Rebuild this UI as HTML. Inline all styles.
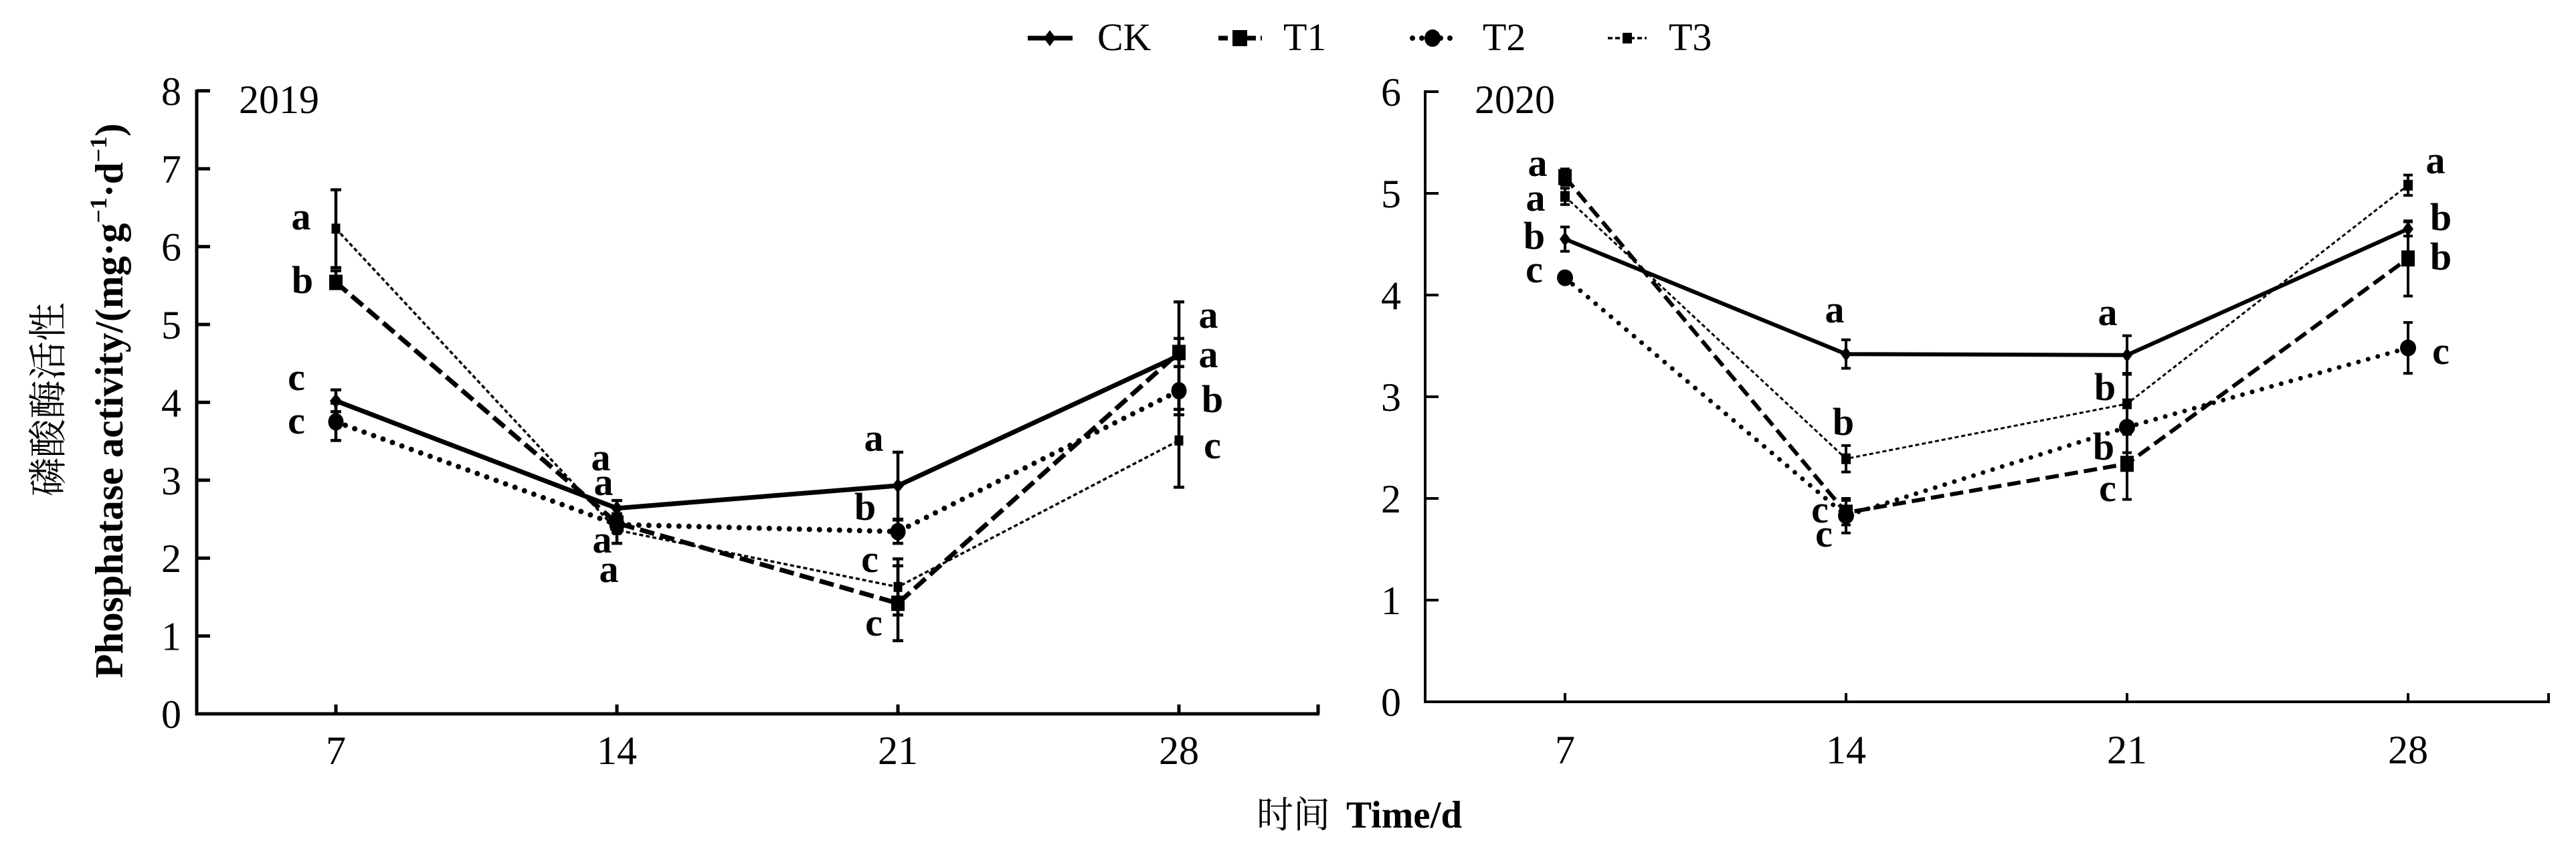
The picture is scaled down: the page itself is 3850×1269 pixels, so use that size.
<!DOCTYPE html>
<html>
<head>
<meta charset="utf-8">
<style>
html,body{margin:0;padding:0;background:#fff;}
svg{display:block;}
.tk{font-family:"Liberation Serif",serif;font-size:60px;fill:#000;}
.lg{font-family:"Liberation Serif",serif;font-size:58px;fill:#000;}
.lb{font-family:"Liberation Serif",serif;font-size:58px;font-weight:bold;fill:#000;text-anchor:middle;}
</style>
</head>
<body>
<svg width="3850" height="1269" viewBox="0 0 3850 1269" xmlns="http://www.w3.org/2000/svg">
<rect width="3850" height="1269" fill="#fff"/>

<!-- ================= LEGEND ================= -->
<g stroke="#000" fill="#000">
  <line x1="1536" y1="57" x2="1603" y2="57" stroke-width="7"/>
  <polygon points="1569,45 1578,57 1569,69 1560,57" stroke="none"/>
  <line x1="1821" y1="57" x2="1886" y2="57" stroke-width="7" stroke-dasharray="14 7"/>
  <rect x="1842" y="45" width="22" height="24" stroke="none"/>
  <line x1="2111" y1="57" x2="2171" y2="57" stroke-width="8" stroke-linecap="round" stroke-dasharray="0 14"/>
  <ellipse cx="2141" cy="57" rx="12" ry="13" stroke="none"/>
  <line x1="2403" y1="57" x2="2461" y2="57" stroke-width="3.5" stroke-dasharray="7 4"/>
  <rect x="2425" y="49" width="14" height="16" stroke="none"/>
</g>
<text class="lg" x="1640" y="75">CK</text>
<text class="lg" x="1918" y="75">T1</text>
<text class="lg" x="2216" y="75">T2</text>
<text class="lg" x="2494" y="75">T3</text>

<!-- ================= Y TITLE ================= -->
<text transform="translate(92,597) rotate(-90)" text-anchor="middle" style="font-family:'Liberation Serif','Noto Serif CJK SC','Noto Sans CJK SC',serif;font-size:58px;fill:#000;">磷酸酶活性</text>
<text transform="translate(183,599) rotate(-90)" text-anchor="middle" style="font-family:'Liberation Serif',serif;font-size:59px;font-weight:bold;fill:#000;">Phosphatase activity/(mg·g<tspan font-size="36" dy="-24">−1</tspan><tspan dy="24">·d</tspan><tspan font-size="36" dy="-24">−1</tspan><tspan dy="24">)</tspan></text>

<!-- ================= X TITLE ================= -->
<text x="1878" y="1237" style="font-family:'Liberation Serif','Noto Serif CJK SC','Noto Sans CJK SC',serif;font-size:55px;fill:#000;">时间</text>
<text x="2012" y="1237" style="font-family:'Liberation Serif',serif;font-size:57px;font-weight:bold;fill:#000;">Time/d</text>

<!-- ================= PANEL 2019 ================= -->
<g stroke="#000" stroke-width="5" fill="none">
  <line x1="294" y1="134" x2="294" y2="1069"/>
  <line x1="292" y1="1067" x2="1972" y2="1067"/>
  <path d="M294 1067H314M294 950.6H314M294 834.2H314M294 717.8H314M294 601.4H314M294 485H314M294 368.6H314M294 252.2H314M294 135.8H314"/>
  <path d="M502 1067V1053M922 1067V1053M1342 1067V1053M1762 1067V1053M1970 1067V1053"/>
</g>
<g class="tk" text-anchor="end">
  <text x="271" y="1088">0</text>
  <text x="271" y="971.6">1</text>
  <text x="271" y="855.2">2</text>
  <text x="271" y="738.8">3</text>
  <text x="271" y="622.4">4</text>
  <text x="271" y="506">5</text>
  <text x="271" y="389.6">6</text>
  <text x="271" y="273.2">7</text>
  <text x="271" y="156.8">8</text>
</g>
<g class="tk" text-anchor="middle">
  <text x="502" y="1142">7</text>
  <text x="922" y="1142">14</text>
  <text x="1342" y="1142">21</text>
  <text x="1762" y="1142">28</text>
</g>
<text class="tk" x="357" y="169">2019</text>

<!-- error bars 2019 -->
<g stroke="#000" stroke-width="4.5" fill="none">
  <path d="M502 283.6V400M494 283.6H510M494 400H510"/>
  <path d="M502 404.7V429.6M494 404.7H510M494 429.6H510"/>
  <path d="M502 582.8V615.4M494 582.8H510M494 615.4H510"/>
  <path d="M502 602.6V658.4M494 602.6H510M494 658.4H510"/>

  <path d="M922 748.1V771.3M914 748.1H930M914 771.3H930"/>
  <path d="M922 767.9V795.8M914 767.9H930M914 795.8H930"/>
  <path d="M922 772.5V812.1M914 772.5H930M914 812.1H930"/>

  <path d="M1342 675.9V776M1334 675.9H1350M1334 776H1350"/>
  <path d="M1342 777.2V812.1M1334 777.2H1350M1334 812.1H1350"/>
  <path d="M1342 835.4V919.2M1334 835.4H1350M1334 919.2H1350"/>
  <path d="M1342 845.8V957.6M1334 845.8H1350M1334 957.6H1350"/>

  <path d="M1762 451.2V611.9M1754 451.2H1770M1754 611.9H1770"/>
  <path d="M1762 505.9V547.9M1754 505.9H1770M1754 547.9H1770"/>
  <path d="M1762 547.9V620M1754 547.9H1770M1754 620H1770"/>
  <path d="M1762 588.6V728.3M1754 588.6H1770M1754 728.3H1770"/>
</g>

<!-- lines 2019 -->
<g stroke="#000" fill="none" stroke-linejoin="round">
  <polyline points="502,341.8 922,792.3 1342,877.3 1762,658.4" stroke-width="3.5" stroke-dasharray="6 4"/>
  <polyline points="502,630.5 922,784.1 1342,794.6 1762,584" stroke-width="8" stroke-linecap="round" stroke-dasharray="0 15"/>
  <polyline points="502,422.1 922,781.8 1342,901.7 1762,526.9" stroke-width="7" stroke-dasharray="22 9"/>
  <polyline points="502,599.1 922,759.7 1342,725.9 1762,531.6" stroke-width="7"/>
</g>

<!-- markers 2019 -->
<g fill="#000">
  <rect x="495.5" y="334.3" width="13" height="15"/>
  <rect x="915.5" y="784.8" width="13" height="15"/>
  <rect x="1335.5" y="869.8" width="13" height="15"/>
  <rect x="1755.5" y="650.9" width="13" height="15"/>

  <ellipse cx="502" cy="630.5" rx="11.5" ry="13"/>
  <ellipse cx="922" cy="784.1" rx="11.5" ry="13"/>
  <ellipse cx="1342" cy="794.6" rx="11.5" ry="13"/>
  <ellipse cx="1762" cy="584" rx="11.5" ry="13"/>

  <rect x="492" y="410.6" width="20" height="23"/>
  <rect x="912" y="770.3" width="20" height="23"/>
  <rect x="1332" y="890.2" width="20" height="23"/>
  <rect x="1752" y="515.4" width="20" height="23"/>

  <polygon points="502,588.1 511,599.1 502,610.1 493,599.1"/>
  <polygon points="922,748.7 931,759.7 922,770.7 913,759.7"/>
  <polygon points="1342,714.9 1351,725.9 1342,736.9 1333,725.9"/>
  <polygon points="1762,520.6 1771,531.6 1762,542.6 1753,531.6"/>
</g>

<!-- letters 2019 -->
<g class="lb">
  <text x="450" y="343">a</text>
  <text x="452" y="438">b</text>
  <text x="443" y="583">c</text>
  <text x="443" y="648">c</text>

  <text x="898" y="703">a</text>
  <text x="902" y="740">a</text>
  <text x="900" y="826">a</text>
  <text x="910" y="870">a</text>

  <text x="1306" y="674">a</text>
  <text x="1293" y="777">b</text>
  <text x="1300" y="855">c</text>
  <text x="1306" y="950">c</text>

  <text x="1806" y="490">a</text>
  <text x="1806" y="549">a</text>
  <text x="1812" y="616">b</text>
  <text x="1812" y="685">c</text>
</g>

<!-- ================= PANEL 2020 ================= -->
<g stroke="#000" stroke-width="4" fill="none">
  <line x1="2130" y1="135" x2="2130" y2="1051"/>
  <line x1="2128" y1="1049" x2="3811" y2="1049"/>
  <path d="M2130 1049H2150M2130 897H2150M2130 745H2150M2130 593H2150M2130 441H2150M2130 289H2150M2130 137H2150"/>
  <path d="M2339 1049V1036M2759 1049V1036M3179 1049V1036M3599 1049V1036M3809 1049V1036"/>
</g>
<g class="tk" text-anchor="end">
  <text x="2094" y="1070">0</text>
  <text x="2094" y="918">1</text>
  <text x="2094" y="766">2</text>
  <text x="2094" y="614">3</text>
  <text x="2094" y="462">4</text>
  <text x="2094" y="310">5</text>
  <text x="2094" y="158">6</text>
</g>
<g class="tk" text-anchor="middle">
  <text x="2339" y="1141">7</text>
  <text x="2759" y="1141">14</text>
  <text x="3179" y="1141">21</text>
  <text x="3599" y="1141">28</text>
</g>
<text class="tk" x="2204" y="169">2020</text>

<!-- error bars 2020 -->
<g stroke="#000" stroke-width="4" fill="none">
  <path d="M2339 252.5V276.9M2332 252.5H2346M2332 276.9H2346"/>
  <path d="M2339 281.4V305.7M2332 281.4H2346M2332 305.7H2346"/>
  <path d="M2339 339.2V375.6M2332 339.2H2346M2332 375.6H2346"/>

  <path d="M2759 507.9V550.5M2752 507.9H2766M2752 550.5H2766"/>
  <path d="M2759 666V705.5M2752 666H2766M2752 705.5H2766"/>
  <path d="M2759 748.1V784.6M2752 748.1H2766M2752 784.6H2766"/>
  <path d="M2759 745V796.6M2752 745H2766M2752 796.6H2766"/>

  <path d="M3179 501.8V559.6M3172 501.8H3186M3172 559.6H3186"/>
  <path d="M3179 558V649.2M3172 558H3186M3172 649.2H3186"/>
  <path d="M3179 600.6V676.6M3172 600.6H3186M3172 676.6H3186"/>
  <path d="M3179 640.1V746.5M3172 640.1H3186M3172 746.5H3186"/>

  <path d="M3599 261.6V292M3592 261.6H3606M3592 292H3606"/>
  <path d="M3599 331.6V352.8M3592 331.6H3606M3592 352.8H3606"/>
  <path d="M3599 330.1V442.5M3592 330.1H3606M3592 442.5H3606"/>
  <path d="M3599 482V558M3592 482H3606M3592 558H3606"/>
</g>

<!-- lines 2020 -->
<g stroke="#000" fill="none" stroke-linejoin="round">
  <polyline points="2339,293.6 2759,685.7 3179,603.6 3599,276.8" stroke-width="3" stroke-dasharray="6 4"/>
  <polyline points="2339,415.2 2759,770.8 3179,638.6 3599,520" stroke-width="7" stroke-linecap="round" stroke-dasharray="0 15"/>
  <polyline points="2339,264.7 2759,766.3 3179,693.3 3599,386.3" stroke-width="6" stroke-dasharray="20 9"/>
  <polyline points="2339,357.4 2759,529.2 3179,530.7 3599,342.2" stroke-width="6"/>
</g>

<!-- markers 2020 -->
<g fill="#000">
  <rect x="2332" y="285.6" width="14" height="16"/>
  <rect x="2752" y="677.7" width="14" height="16"/>
  <rect x="3172" y="595.6" width="14" height="16"/>
  <rect x="3592" y="268.8" width="14" height="16"/>

  <ellipse cx="2339" cy="415.2" rx="12" ry="12.5"/>
  <ellipse cx="2759" cy="770.8" rx="12" ry="12.5"/>
  <ellipse cx="3179" cy="638.6" rx="12" ry="12.5"/>
  <ellipse cx="3599" cy="520" rx="12" ry="12.5"/>

  <rect x="2329" y="252.7" width="20" height="24"/>
  <rect x="2749" y="754.3" width="20" height="24"/>
  <rect x="3169" y="681.3" width="20" height="24"/>
  <rect x="3589" y="374.3" width="20" height="24"/>

  <polygon points="2339,346.4 2347,357.4 2339,368.4 2331,357.4"/>
  <polygon points="2759,518.2 2767,529.2 2759,540.2 2751,529.2"/>
  <polygon points="3179,519.7 3187,530.7 3179,541.7 3171,530.7"/>
  <polygon points="3599,331.2 3607,342.2 3599,353.2 3591,342.2"/>
</g>

<!-- letters 2020 -->
<g class="lb">
  <text x="2298" y="263">a</text>
  <text x="2295" y="315">a</text>
  <text x="2293" y="372">b</text>
  <text x="2293" y="422">c</text>

  <text x="2742" y="482">a</text>
  <text x="2755" y="650">b</text>
  <text x="2720" y="781">c</text>
  <text x="2726" y="817">c</text>

  <text x="3150" y="486">a</text>
  <text x="3146" y="598">b</text>
  <text x="3144" y="687">b</text>
  <text x="3150" y="749">c</text>

  <text x="3640" y="259">a</text>
  <text x="3648" y="344">b</text>
  <text x="3648" y="403">b</text>
  <text x="3648" y="544">c</text>
</g>
</svg>
</body>
</html>
